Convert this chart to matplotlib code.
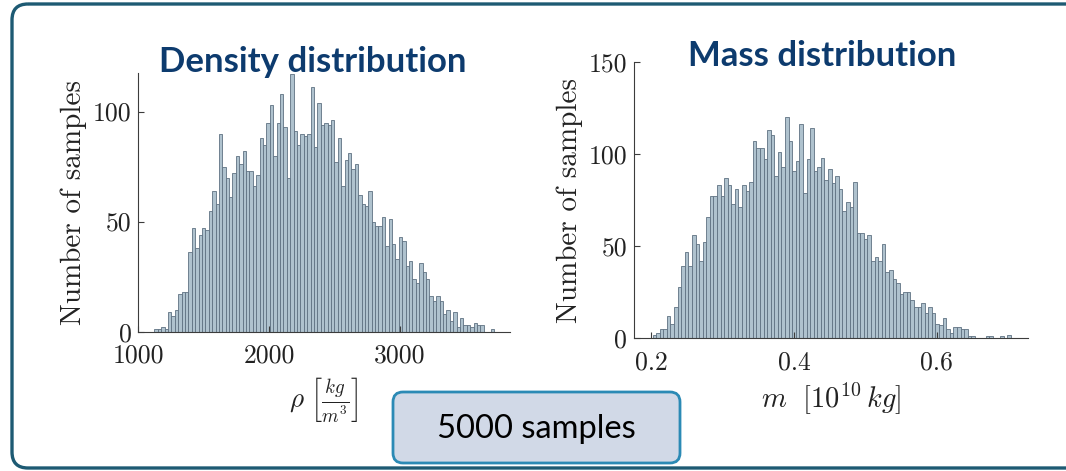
import matplotlib
matplotlib.use('Agg')
import matplotlib.pyplot as plt
from matplotlib.patches import FancyBboxPatch
import numpy as np

# histogram counts, 100 bins each (5000 samples)
rho_counts = [1, 1, 2, 1, 9, 7, 10, 17, 18, 18,
              36, 47, 38, 44, 47, 46, 55, 64, 58, 90,
              75, 70, 61, 72, 80, 76, 82, 73, 73, 66,
              71, 88, 85, 95, 103, 80, 95, 108, 93, 70,
              117, 91, 85, 90, 89, 90, 111, 84, 104, 94,
              95, 94, 96, 77, 88, 66, 78, 81, 74, 76,
              62, 58, 57, 64, 50, 48, 48, 52, 39, 51,
              40, 33, 43, 41, 30, 32, 24, 22, 31, 27,
              24, 16, 14, 16, 14, 8, 10, 5, 9, 2,
              6, 3, 3, 2, 4, 3, 3, 0, 0, 1]
rho_start = 1122.0
rho_bin = 26.0

mass_counts = [2, 3, 5, 5, 12, 8, 17, 28, 39, 47,
               39, 56, 51, 42, 52, 66, 77, 77, 83, 77,
               87, 83, 73, 81, 71, 83, 80, 85, 107, 103,
               103, 97, 113, 110, 88, 101, 93, 120, 107, 91,
               96, 116, 79, 97, 114, 91, 93, 98, 86, 92,
               84, 88, 81, 69, 74, 71, 85, 57, 57, 54,
               56, 42, 44, 42, 51, 36, 37, 32, 30, 24,
               25, 25, 21, 17, 17, 19, 14, 17, 14, 8,
               7, 11, 5, 3, 6, 6, 5, 5, 1, 1,
               0, 0, 0, 1, 1, 0, 0, 1, 0, 2]
mass_start = 0.2018
mass_bin = 0.00502

rho_ticks = [1000, 2000, 3000]
mass_ticks = [0.2, 0.4, 0.6]

plt.rcParams['font.family'] = 'serif'
plt.rcParams['font.serif'] = ['cmr10']
plt.rcParams['mathtext.fontset'] = 'cm'
plt.rcParams['axes.unicode_minus'] = False

face = '#afc2ce'
edge = '#5f7282'
spine_col = '#3c3c3c'
title_col = '#0d3b6e'

fig = plt.figure(figsize=(10.66, 4.71), dpi=100)

# background layer in pixel units for the frame and the note box
bg = fig.add_axes([0, 0, 1, 1], zorder=0)
bg.set_xlim(0, 1066)
bg.set_ylim(471, 0)
bg.axis('off')
bg.add_patch(FancyBboxPatch((12, 4), 1100, 464,
                            boxstyle='round,pad=0,rounding_size=16',
                            fc='none', ec='#1d5a73', lw=2.4))
bg.add_patch(FancyBboxPatch((393, 392), 287, 71,
                            boxstyle='round,pad=0,rounding_size=10',
                            fc='#d1d9e7', ec='#2b8ab5', lw=2))
bg.text(536, 429, '5000 samples', ha='center', va='center',
        fontsize=23.5, family='Lato', color='black')


def style_axes(ax):
    for s in ['top', 'right']:
        ax.spines[s].set_visible(False)
    for s in ['left', 'bottom']:
        ax.spines[s].set_color(spine_col)
        ax.spines[s].set_linewidth(0.8)
    ax.tick_params(direction='in', length=4, width=0.8, color=spine_col,
                   labelsize=18.5, labelcolor='#222222')
    ax.tick_params(axis='x', pad=9)
    ax.tick_params(axis='y', pad=5)
    ax.patch.set_alpha(0)


# density histogram
ax1 = fig.add_axes([0.1299, 0.2958, 0.3485, 0.5492], zorder=1)
rho_left = rho_start + rho_bin * np.arange(len(rho_counts))
ax1.bar(rho_left, rho_counts, width=rho_bin, align='edge',
        color=face, edgecolor=edge, linewidth=0.6)
ax1.set_xlim(1000, 3845)
ax1.set_ylim(0, 117.5)
ax1.set_xticks(rho_ticks)
ax1.set_xticklabels([str(t) for t in rho_ticks])
ax1.set_yticks([0, 50, 100])
ax1.set_yticklabels(['0', '50', '100'])
style_axes(ax1)
ax1.set_ylabel('Number of samples', fontsize=21, color='#222222', labelpad=4)
ax1.set_xlabel(r'$\rho\ \left[\frac{kg}{m^3}\right]$', fontsize=19.5,
               color='#222222', labelpad=5)

# mass histogram
ax2 = fig.add_axes([0.5950, 0.2817, 0.3696, 0.5873], zorder=1)
mass_left = mass_start + mass_bin * np.arange(len(mass_counts))
ax2.bar(mass_left, mass_counts, width=mass_bin, align='edge',
        color=face, edgecolor=edge, linewidth=0.6)
ax2.set_xlim(0.1762, 0.7284)
ax2.set_ylim(0, 150)
ax2.set_xticks(mass_ticks)
ax2.set_xticklabels([f'{t:.1f}' for t in mass_ticks])
ax2.set_yticks([0, 50, 100, 150])
ax2.set_yticklabels(['0', '50', '100', '150'])
style_axes(ax2)
ax2.set_ylabel('Number of samples', fontsize=21, color='#222222', labelpad=4)
ax2.set_xlabel(r'$m\ \ [10^{10}\,kg]$', fontsize=20.5, color='#222222',
               labelpad=5)

# panel headings
fig.text(313 / 1066, 1 - 62 / 471, 'Density distribution', ha='center',
         va='center', fontsize=25, family='Lato', weight='bold', color=title_col,
         zorder=3)
fig.text(822 / 1066, 1 - 56 / 471, 'Mass distribution', ha='center',
         va='center', fontsize=25, family='Lato', weight='bold', color=title_col,
         zorder=3)

fig.savefig('out.png', dpi=100)
